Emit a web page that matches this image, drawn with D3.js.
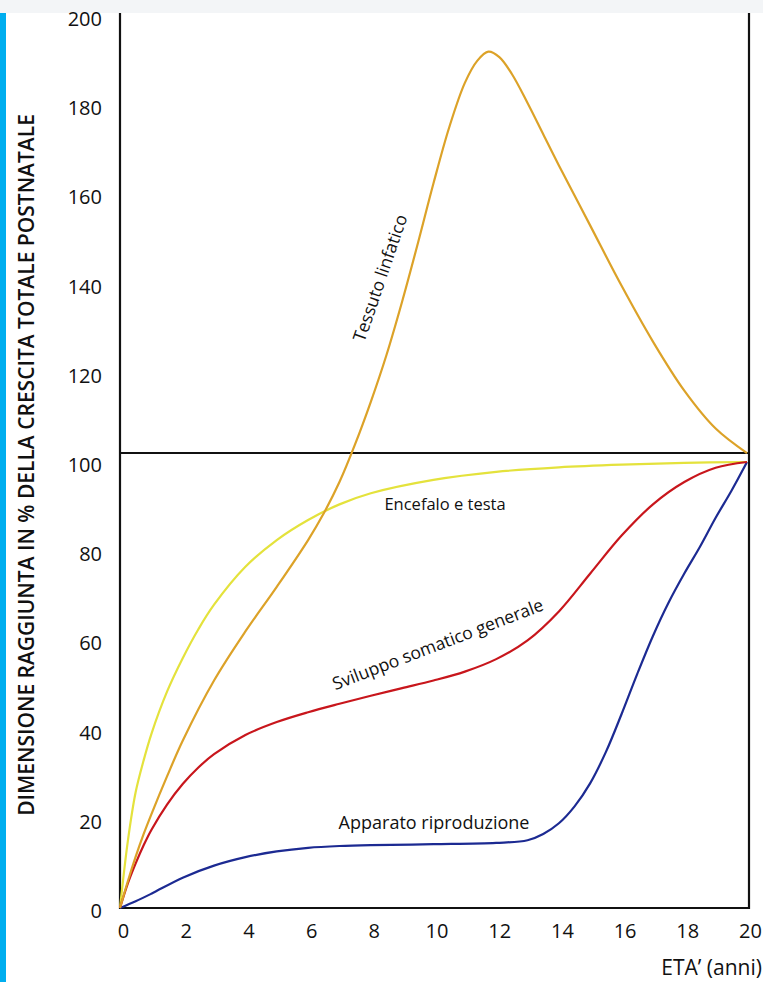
<!DOCTYPE html>
<html>
<head>
<meta charset="utf-8">
<script src="https://cdn.jsdelivr.net/npm/d3@7"></script>
<style>
  body { margin: 0; background: #fff; }
  svg { display: block; }
</style>
</head>
<body>
<div id="chart"></div>
<script>
// eta' (anni) / percentuale raggiunta
var linfaticoX = [0, 0.25, 0.5, 0.75, 1, 1.5, 2, 3, 4, 5, 6, 6.5, 7, 7.5, 8, 8.5, 9, 9.5, 10, 10.5, 11, 11.4, 11.75, 12.1, 12.5, 13, 13.5, 14, 15, 16, 17, 18, 19, 20];
var linfaticoY = [0, 6, 11.5, 16.5, 21, 29.5, 37.5, 51, 62, 72, 82.5, 88.5, 95.5, 104, 113.5, 124, 136, 149, 162.5, 175, 185, 190, 192, 190.8, 187, 180.5, 173.5, 166.5, 153, 139.5, 127, 116, 107.5, 102];

var encefaloX = [0, 0.25, 0.5, 0.75, 1, 1.5, 2, 2.5, 3, 4, 5, 6, 7, 8, 10, 12, 14, 16, 18, 20];
var encefaloY = [0, 15, 26, 33, 39, 48.5, 56, 62.5, 68, 76.5, 82.5, 87, 90.5, 93, 96, 97.8, 98.8, 99.4, 99.8, 100];

var somaticoX = [0, 0.25, 0.5, 0.75, 1, 1.5, 2, 2.5, 3, 4, 5, 6, 7, 8, 9, 10, 11, 12, 13, 14, 15, 16, 17, 18, 19, 20];
var somaticoY = [0, 5.5, 10, 14, 17.5, 23.2, 27.8, 31.5, 34.5, 38.8, 41.7, 43.9, 45.8, 47.6, 49.3, 51, 53, 55.8, 60, 66.5, 75, 83.5, 90.5, 95.5, 98.7, 100];

var riproduzioneX = [0, 0.5, 1, 2, 3, 4, 5, 6, 7, 8, 10, 12, 13, 13.5, 14, 14.5, 15, 15.5, 16, 16.5, 17, 17.5, 18, 18.5, 19, 19.5, 20];
var riproduzioneY = [0, 1.5, 3.2, 6.8, 9.5, 11.4, 12.7, 13.5, 13.9, 14.1, 14.3, 14.6, 15.2, 16.6, 19, 22.8, 28, 35, 43.5, 52.5, 61, 68.5, 75, 81, 87.5, 93.5, 100];

var xTicks = [0, 2, 4, 6, 8, 10, 12, 14, 16, 18, 20];
var yTicks = [0, 20, 40, 60, 80, 100, 120, 140, 160, 180, 200];
var rifLine = 102;

var width = 763, height = 982;
var svg = d3.select("#chart").append("svg")
  .attr("width", width)
  .attr("height", height);

// strisce della scansione
svg.append("rect").attr("x", 0).attr("y", 0).attr("width", width).attr("height", 13).attr("fill", "#f3f5f7");
svg.append("rect").attr("x", 0).attr("y", 13).attr("width", 6).attr("height", height - 13).attr("fill", "#00aeef");

var x = d3.scaleLinear().domain([0, 20]).range([120, 747]);
var y = d3.scaleLinear().domain([0, 200]).range([908, 16]);

var font = "'Open Sans', 'Liberation Sans', sans-serif";

// cornice: asse sinistro, asse inferiore, bordo destro
svg.append("line").attr("x1", 120).attr("x2", 120).attr("y1", 13).attr("y2", 909)
  .attr("stroke", "#111").attr("stroke-width", 2.2);
svg.append("line").attr("x1", 749).attr("x2", 749).attr("y1", 13).attr("y2", 909)
  .attr("stroke", "#111").attr("stroke-width", 2.2);
svg.append("line").attr("x1", 119).attr("x2", 750).attr("y1", 908).attr("y2", 908)
  .attr("stroke", "#111").attr("stroke-width", 2.2);
svg.append("line").attr("x1", 120).attr("x2", 749).attr("y1", y(rifLine)).attr("y2", y(rifLine))
  .attr("stroke", "#111").attr("stroke-width", 2);

var xAxis = d3.axisBottom(x).tickValues(xTicks).tickSize(0).tickPadding(16);
var gx = svg.append("g").attr("transform", "translate(3,908)").call(xAxis);
gx.select(".domain").remove();
gx.selectAll("text").attr("font-family", font).attr("font-size", 20).attr("fill", "#111");

var yAxis = d3.axisLeft(y).tickValues(yTicks).tickSize(0).tickPadding(18);
var gy = svg.append("g").attr("transform", "translate(120,3)").call(yAxis);
gy.select(".domain").remove();
gy.selectAll("text").attr("font-family", font).attr("font-size", 20).attr("fill", "#111");

svg.append("text")
  .attr("transform", "translate(34,465) rotate(-90)")
  .attr("text-anchor", "middle")
  .attr("font-family", font).attr("font-size", 21).attr("font-weight", 600)
  .attr("fill", "#111")
  .text("DIMENSIONE RAGGIUNTA IN % DELLA CRESCITA TOTALE POSTNATALE");

svg.append("text")
  .attr("x", 762).attr("y", 975)
  .attr("text-anchor", "end")
  .attr("font-family", font).attr("font-size", 21).attr("fill", "#111")
  .text("ETA\u2019 (anni)");

var line = d3.line()
  .x(function(d) { return x(d[0]); })
  .y(function(d) { return y(d[1]); })
  .curve(d3.curveCatmullRom.alpha(0.5));

function pairs(xs, ys) {
  return xs.map(function(v, i) { return [v, ys[i]]; });
}

var series = [
  { data: pairs(encefaloX, encefaloY), color: "#e4e23c" },
  { data: pairs(riproduzioneX, riproduzioneY), color: "#1c2a92" },
  { data: pairs(somaticoX, somaticoY), color: "#c8161c" },
  { data: pairs(linfaticoX, linfaticoY), color: "#dca228" }
];

svg.selectAll("path.curve")
  .data(series)
  .enter()
  .append("path")
  .attr("class", "curve")
  .attr("d", function(d) { return line(d.data); })
  .attr("fill", "none")
  .attr("stroke", function(d) { return d.color; })
  .attr("stroke-width", 2.2);

var labels = [
  { t: "Tessuto linfatico", x: 386, y: 280, r: -71, s: 17.5 },
  { t: "Encefalo e testa", x: 445, y: 510, r: 0, s: 16.5 },
  { t: "Sviluppo somatico generale", x: 440, y: 650, r: -21, s: 17.5 },
  { t: "Apparato riproduzione", x: 434, y: 829, r: 0, s: 18 }
];

svg.selectAll("text.lab")
  .data(labels)
  .enter()
  .append("text")
  .attr("class", "lab")
  .attr("transform", function(d) { return "translate(" + d.x + "," + d.y + ") rotate(" + d.r + ")"; })
  .attr("text-anchor", "middle")
  .attr("font-family", font)
  .attr("font-size", function(d) { return d.s; })
  .attr("fill", "#111")
  .text(function(d) { return d.t; });
</script>
</body>
</html>
